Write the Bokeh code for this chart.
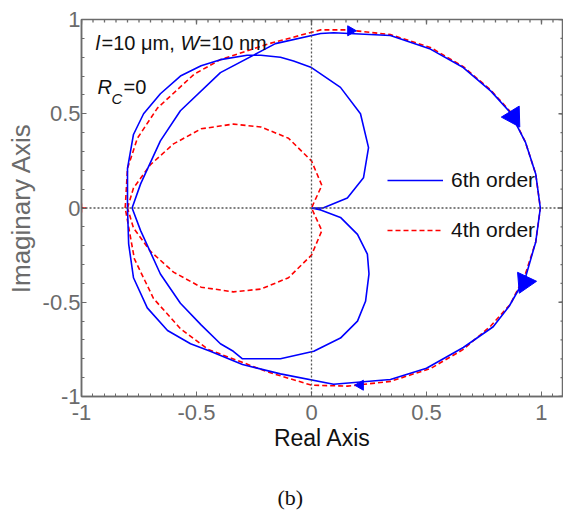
from bokeh.plotting import figure
from bokeh.models import Range1d, Legend, LegendItem, Label, Span, FixedTicker, Title
from bokeh.embed import file_html
from bokeh.resources import INLINE

# ---------------- data ----------------
x_ticks = [-1, -0.5, 0, 0.5, 1]
y_ticks = [-1, -0.5, 0, 0.5, 1]
tick_labels = {-1: "-1", -0.5: "-0.5", 0: "0", 0.5: "0.5", 1: "1"}
x_minor = [round(-1 + 0.05 * i, 2) for i in range(44)]
y_minor = [round(-1 + 0.1 * i, 2) for i in range(21)]

# 6th order Nyquist curve (blue)
blue_x = [0.0, 0.04, 0.126, 0.2, 0.243, 0.25, 0.235, 0.2, 0.126, 0.01, -0.135, -0.30,
          -0.34, -0.396, -0.48, -0.57, -0.657, -0.743, -0.78,
          -0.743, -0.657, -0.57, -0.396, -0.157, 0.04, 0.096,
          0.343, 0.517, 0.66, 0.78, 0.865, 0.93, 0.975, 0.995, 0.975, 0.93, 0.86, 0.79, 0.66, 0.50, 0.343, 0.096,
          -0.135, -0.30, -0.44, -0.526, -0.626, -0.714, -0.774, -0.795, -0.80,
          -0.80, -0.774, -0.73, -0.657, -0.57, -0.48, -0.396, -0.28, -0.22, -0.135, -0.078, 0.0, 0.126,
          0.213, 0.248, 0.226, 0.156, 0.05, 0.0]
blue_y = [0.0, -0.01, -0.05, -0.14, -0.245, -0.35, -0.495, -0.6, -0.69, -0.76, -0.80, -0.80,
          -0.76, -0.72, -0.62, -0.505, -0.35, -0.12, 0.0,
          0.128, 0.356, 0.516, 0.718, 0.872, 0.926, 0.93,
          0.915, 0.843, 0.745, 0.62, 0.505, 0.35, 0.18, 0.0, -0.18, -0.37, -0.52, -0.63, -0.74, -0.85, -0.91, -0.935,
          -0.88, -0.83, -0.76, -0.72, -0.65, -0.53, -0.37, -0.19, 0.0,
          0.21, 0.39, 0.50, 0.606, 0.70, 0.755, 0.787, 0.81, 0.81, 0.80, 0.78, 0.745, 0.64,
          0.5, 0.32, 0.16, 0.053, 0.0, 0.0]

# 4th order Nyquist curve (red), outer branch and inner loop
red_outer_x = [-0.81, -0.80, -0.757, -0.67, -0.51, -0.396, -0.19, 0.04, 0.156, 0.343, 0.52, 0.66, 0.78,
               0.865, 0.93, 0.975, 0.995, 0.975, 0.93, 0.865, 0.78, 0.66, 0.52, 0.343, 0.156, 0.0,
               -0.19, -0.45, -0.57, -0.687, -0.77, -0.81]
red_outer_y = [0.0, 0.21, 0.37, 0.53, 0.71, 0.787, 0.87, 0.945, 0.945, 0.92, 0.85, 0.75, 0.625,
               0.51, 0.35, 0.18, 0.0, -0.18, -0.35, -0.51, -0.625, -0.75, -0.85, -0.92, -0.945, -0.94,
               -0.87, -0.75, -0.64, -0.48, -0.27, 0.0]
red_inner_x = [-0.80, -0.774, -0.70, -0.60, -0.48, -0.34, -0.22, -0.10, 0.0, 0.045, 0.0,
               0.045, 0.0, -0.10, -0.22, -0.34, -0.48, -0.60, -0.70, -0.774, -0.80]
red_inner_y = [0.0, 0.106, 0.23, 0.34, 0.42, 0.445, 0.43, 0.37, 0.25, 0.12, 0.0,
               -0.12, -0.25, -0.37, -0.43, -0.445, -0.42, -0.34, -0.23, -0.106, 0.0]

# direction arrows on the 6th order curve
arrow_x = [0.878, 0.926, 0.17, 0.213]
arrow_y = [0.484, -0.394, 0.94, -0.94]
arrow_angle = [-2.59, 2.70, -1.571, 1.571]
arrow_size = [21, 21, 10, 10]

# critical point
crit_x = [-1]
crit_y = [0]

# ---------------- figure ----------------
FONT = "Liberation Sans"
GRAY = "#6b6b6b"
X0, X1, Y0, Y1 = -1, 1.0957, -1, 1
PX_X = 482 / (X1 - X0)   # pixels per data unit (frame 482 x 377 px)
PX_Y = 377 / (Y1 - Y0)

p = figure(width=563, height=515, x_range=Range1d(X0, X1), y_range=Range1d(Y0, Y1),
           output_backend="svg", toolbar_location=None,
           min_border_left=81, min_border_right=0, min_border_top=19, min_border_bottom=119,
           background_fill_color="white", border_fill_color="white")
p.grid.visible = False
p.outline_line_color = GRAY
p.outline_line_width = 1.5

for ax, ticks, minors in ((p.xaxis[0], x_ticks, x_minor), (p.yaxis[0], y_ticks, y_minor)):
    ax.ticker = FixedTicker(ticks=ticks, minor_ticks=minors)
    ax.major_label_overrides = tick_labels
    ax.major_tick_in = 5
    ax.major_tick_out = 0
    ax.minor_tick_in = 3
    ax.minor_tick_out = 0
    ax.axis_line_color = GRAY
    ax.axis_line_width = 1.5
    ax.major_tick_line_color = GRAY
    ax.minor_tick_line_color = GRAY
    ax.major_label_text_font = FONT
    ax.major_label_text_font_size = "22px"
    ax.major_label_text_color = GRAY
    ax.axis_label_text_font = FONT
    ax.axis_label_text_font_style = "normal"

p.xaxis[0].axis_label = "Real Axis"
p.xaxis[0].axis_label_text_font_size = "23px"
p.xaxis[0].axis_label_text_color = "#111111"
p.xaxis[0].major_label_standoff = 8
p.xaxis[0].axis_label_standoff = 2

p.yaxis[0].axis_label = "Imaginary Axis"
p.yaxis[0].axis_label_text_font_size = "26px"
p.yaxis[0].axis_label_text_color = GRAY
p.yaxis[0].major_label_standoff = 1
p.yaxis[0].axis_label_standoff = 4

# tick marks on the top and right edges of the box (pointing inward)
top_x = x_ticks + x_minor
top_len = [5 / PX_Y] * len(x_ticks) + [3 / PX_Y] * len(x_minor)
p.segment(x0=top_x, y0=[Y1] * len(top_x), x1=top_x, y1=[Y1 - d for d in top_len],
          line_color=GRAY, line_width=1.3)
right_y = y_ticks + y_minor
right_len = [5 / PX_X] * len(y_ticks) + [3 / PX_X] * len(y_minor)
p.segment(x0=[X1] * len(right_y), y0=right_y, x1=[X1 - d for d in right_len], y1=right_y,
          line_color=GRAY, line_width=1.3)

# dotted zero lines
p.add_layout(Span(location=0, dimension="height", line_color="#555555", line_dash="2 2", line_width=1.3))
p.add_layout(Span(location=0, dimension="width", line_color="#555555", line_dash="2 2", line_width=1.3))

# curves
r_red = p.line(red_outer_x, red_outer_y, line_color="#ff0000", line_width=1.6, line_dash="5 3")
p.line(red_inner_x, red_inner_y, line_color="#ff0000", line_width=1.6, line_dash="5 3")
r_blue = p.line(blue_x, blue_y, line_color="#0000ff", line_width=1.6)

p.scatter(arrow_x, arrow_y, marker="triangle", size=arrow_size, angle=arrow_angle,
          fill_color="#0000ff", line_color="#0000ff")
p.scatter(crit_x, crit_y, marker="cross", size=9, line_color="#ff0000", line_width=1.5)

# legend
legend = Legend(items=[LegendItem(label="6th order", renderers=[r_blue]),
                       LegendItem(label="4th order", renderers=[r_red])],
                location=(306, 154), padding=0, margin=0, spacing=26,
                glyph_width=56, glyph_height=22, label_height=22, label_standoff=8,
                label_text_font=FONT, label_text_font_size="21px", label_text_color="#111111",
                border_line_color=None, background_fill_alpha=0)
p.add_layout(legend, "center")

# annotations
ann = [
    ("l", 14, 354, "italic", "20px"),
    ("=10 \u03bcm,", 20, 354, "normal", "20px"),
    ("W", 99, 354, "italic", "20px"),
    ("=10 nm", 118, 354, "normal", "20px"),
    ("R", 16, 310, "italic", "20px"),
    ("C", 30, 298, "italic", "15px"),
    ("=0", 42, 310, "normal", "20px"),
]
for t, x, y, st, fs in ann:
    p.add_layout(Label(x=x, y=y, x_units="screen", y_units="screen", text=t,
                       text_font=FONT, text_font_style=st, text_font_size=fs,
                       text_color="#111111", text_baseline="alphabetic"))

# caption below the chart (leading blank line gives the vertical gap)
p.add_layout(Title(text="\n(b)", align="left", offset=196, standoff=8, vertical_align="bottom",
                   text_font="Liberation Serif", text_font_size="22px",
                   text_font_style="normal", text_color="#111111"), "below")

open("out.html", "w").write(file_html(p, INLINE))
